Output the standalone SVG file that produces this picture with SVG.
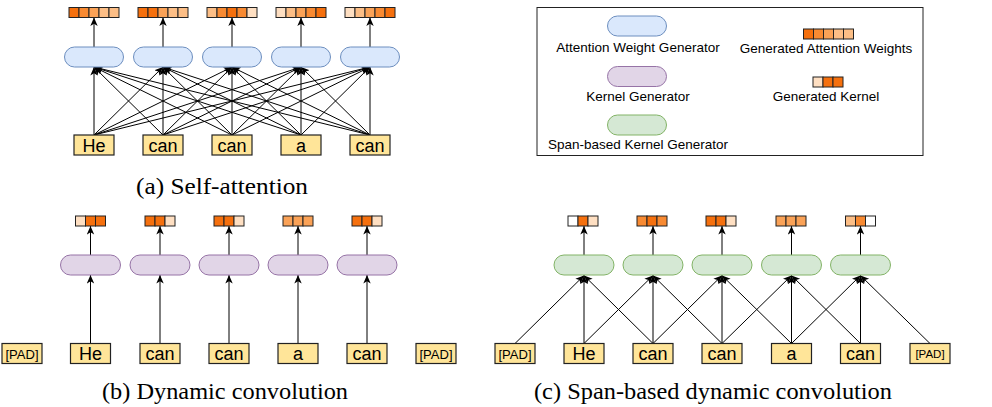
<svg xmlns="http://www.w3.org/2000/svg" width="992" height="407" viewBox="0 0 992 407">
  <defs>
    <marker id="arr" markerWidth="9" markerHeight="9" refX="8.5" refY="4" orient="auto" markerUnits="userSpaceOnUse">
      <path d="M0,0.3 L8.5,4 L0,7.7 L2.2,4 Z" fill="#000"/>
    </marker>
    <style>
      .tok rect { fill: #FFE599; stroke: #222; stroke-width: 1.2; }
      .tok text { font-family: "Liberation Sans", Arial, sans-serif; font-size: 18px; fill: #000; text-anchor: middle; }
      .tok.pad text { font-size: 13px; }
      .attn { fill: #DAE8FC; stroke: #6C8EBF; stroke-width: 1; }
      .kern { fill: #E1D5E7; stroke: #9673A6; stroke-width: 1; }
      .span { fill: #D5E8D4; stroke: #82B366; stroke-width: 1; }
      .cell { stroke: #222; stroke-width: 1; }
      .D { fill: #F5700E; }
      .M1 { fill: #F88A32; }
      .M2 { fill: #FAA257; }
      .L1 { fill: #FCBE86; }
      .L2 { fill: #FEDFC2; }
      .W { fill: #FFFFFF; }
      .conn line { stroke: #000; stroke-width: 1; marker-end: url(#arr); }
      .cap { font-family: "Liberation Serif", "Times New Roman", serif; font-size: 24px; fill: #000; text-anchor: middle; }
      .leg { font-family: "Liberation Sans", Arial, sans-serif; font-size: 13.5px; fill: #000; text-anchor: middle; }
    </style>
  </defs>
  <rect width="992" height="407" fill="#fff"/>

  <!-- ===== (a) Self-attention ===== -->
  <g id="sa-connectors" class="conn">
    <!-- generators to weights -->
    <line x1="94" y1="47" x2="94" y2="17.5"/>
    <line x1="163" y1="47" x2="163" y2="17.5"/>
    <line x1="232" y1="47" x2="232" y2="17.5"/>
    <line x1="301" y1="47" x2="301" y2="17.5"/>
    <line x1="370" y1="47" x2="370" y2="17.5"/>
    <!-- every token feeds every generator -->
    <line x1="94" y1="135" x2="94" y2="67"/>
    <line x1="94" y1="135" x2="163" y2="67"/>
    <line x1="94" y1="135" x2="232" y2="67"/>
    <line x1="94" y1="135" x2="301" y2="67"/>
    <line x1="94" y1="135" x2="370" y2="67"/>
    <line x1="163" y1="135" x2="94" y2="67"/>
    <line x1="163" y1="135" x2="163" y2="67"/>
    <line x1="163" y1="135" x2="232" y2="67"/>
    <line x1="163" y1="135" x2="301" y2="67"/>
    <line x1="163" y1="135" x2="370" y2="67"/>
    <line x1="232" y1="135" x2="94" y2="67"/>
    <line x1="232" y1="135" x2="163" y2="67"/>
    <line x1="232" y1="135" x2="232" y2="67"/>
    <line x1="232" y1="135" x2="301" y2="67"/>
    <line x1="232" y1="135" x2="370" y2="67"/>
    <line x1="301" y1="135" x2="94" y2="67"/>
    <line x1="301" y1="135" x2="163" y2="67"/>
    <line x1="301" y1="135" x2="232" y2="67"/>
    <line x1="301" y1="135" x2="301" y2="67"/>
    <line x1="301" y1="135" x2="370" y2="67"/>
    <line x1="370" y1="135" x2="94" y2="67"/>
    <line x1="370" y1="135" x2="163" y2="67"/>
    <line x1="370" y1="135" x2="232" y2="67"/>
    <line x1="370" y1="135" x2="301" y2="67"/>
    <line x1="370" y1="135" x2="370" y2="67"/>
  </g>

  <g id="sa-weights-1"><rect class="cell D" x="69" y="7.5" width="10" height="10"/><rect class="cell M1" x="79" y="7.5" width="10" height="10"/><rect class="cell M2" x="89" y="7.5" width="10" height="10"/><rect class="cell L1" x="99" y="7.5" width="10" height="10"/><rect class="cell L1" x="109" y="7.5" width="10" height="10"/></g>
  <g id="sa-weights-2"><rect class="cell D" x="138" y="7.5" width="10" height="10"/><rect class="cell D" x="148" y="7.5" width="10" height="10"/><rect class="cell M2" x="158" y="7.5" width="10" height="10"/><rect class="cell L1" x="168" y="7.5" width="10" height="10"/><rect class="cell L1" x="178" y="7.5" width="10" height="10"/></g>
  <g id="sa-weights-3"><rect class="cell L1" x="207" y="7.5" width="10" height="10"/><rect class="cell M1" x="217" y="7.5" width="10" height="10"/><rect class="cell D" x="227" y="7.5" width="10" height="10"/><rect class="cell M1" x="237" y="7.5" width="10" height="10"/><rect class="cell L2" x="247" y="7.5" width="10" height="10"/></g>
  <g id="sa-weights-4"><rect class="cell L2" x="276" y="7.5" width="10" height="10"/><rect class="cell L1" x="286" y="7.5" width="10" height="10"/><rect class="cell M2" x="296" y="7.5" width="10" height="10"/><rect class="cell M1" x="306" y="7.5" width="10" height="10"/><rect class="cell D" x="316" y="7.5" width="10" height="10"/></g>
  <g id="sa-weights-5"><rect class="cell L2" x="345" y="7.5" width="10" height="10"/><rect class="cell L1" x="355" y="7.5" width="10" height="10"/><rect class="cell M2" x="365" y="7.5" width="10" height="10"/><rect class="cell M1" x="375" y="7.5" width="10" height="10"/><rect class="cell D" x="385" y="7.5" width="10" height="10"/></g>

  <g id="sa-gen-1"><rect class="attn" x="64.5" y="47" width="59" height="20" rx="10"/></g>
  <g id="sa-gen-2"><rect class="attn" x="133.5" y="47" width="59" height="20" rx="10"/></g>
  <g id="sa-gen-3"><rect class="attn" x="202.5" y="47" width="59" height="20" rx="10"/></g>
  <g id="sa-gen-4"><rect class="attn" x="271.5" y="47" width="59" height="20" rx="10"/></g>
  <g id="sa-gen-5"><rect class="attn" x="340.5" y="47" width="59" height="20" rx="10"/></g>

  <g id="sa-tok-1" class="tok"><rect x="74" y="135" width="40" height="20"/><text x="94" y="151.5">He</text></g>
  <g id="sa-tok-2" class="tok"><rect x="143" y="135" width="40" height="20"/><text x="163" y="151.5">can</text></g>
  <g id="sa-tok-3" class="tok"><rect x="212" y="135" width="40" height="20"/><text x="232" y="151.5">can</text></g>
  <g id="sa-tok-4" class="tok"><rect x="281" y="135" width="40" height="20"/><text x="301" y="151.5">a</text></g>
  <g id="sa-tok-5" class="tok"><rect x="350" y="135" width="40" height="20"/><text x="370" y="151.5">can</text></g>

  <text class="cap" x="222" y="194" textLength="172" lengthAdjust="spacingAndGlyphs">(a) Self-attention</text>

  <!-- ===== Legend ===== -->
  <g id="legend">
    <rect x="537" y="7.5" width="386" height="148" fill="#fff" stroke="#222" stroke-width="1"/>
    <rect class="attn" x="607.5" y="16" width="59" height="20" rx="10"/>
    <text class="leg" x="638" y="52">Attention Weight Generator</text>
    <rect class="kern" x="607.5" y="66.5" width="59" height="20" rx="10"/>
    <text class="leg" x="638" y="101">Kernel Generator</text>
    <rect class="span" x="607.5" y="115" width="59" height="20" rx="10"/>
    <text class="leg" x="638" y="149">Span-based Kernel Generator</text>
    <rect class="cell D" x="803.5" y="29" width="10" height="10"/><rect class="cell M1" x="813.5" y="29" width="10" height="10"/><rect class="cell M2" x="823.5" y="29" width="10" height="10"/><rect class="cell L1" x="833.5" y="29" width="10" height="10"/><rect class="cell L1" x="843.5" y="29" width="10" height="10"/>
    <text class="leg" x="826" y="53">Generated Attention Weights</text>
    <rect class="cell L2" x="813" y="77" width="10" height="10"/><rect class="cell D" x="823" y="77" width="10" height="10"/><rect class="cell D" x="833" y="77" width="10" height="10"/>
    <text class="leg" x="826" y="101">Generated Kernel</text>
  </g>

  <!-- ===== (b) Dynamic convolution ===== -->
  <g id="dc-connectors" class="conn">
    <line x1="90.5" y1="255" x2="90.5" y2="226"/>
    <line x1="160" y1="255" x2="160" y2="226"/>
    <line x1="229" y1="255" x2="229" y2="226"/>
    <line x1="298" y1="255" x2="298" y2="226"/>
    <line x1="367" y1="255" x2="367" y2="226"/>
    <line x1="90.5" y1="343.5" x2="90.5" y2="275"/>
    <line x1="160" y1="343.5" x2="160" y2="275"/>
    <line x1="229" y1="343.5" x2="229" y2="275"/>
    <line x1="298" y1="343.5" x2="298" y2="275"/>
    <line x1="367" y1="343.5" x2="367" y2="275"/>
  </g>

  <g id="dc-kernel-1"><rect class="cell L2" x="75.5" y="216" width="10" height="10"/><rect class="cell D" x="85.5" y="216" width="10" height="10"/><rect class="cell D" x="95.5" y="216" width="10" height="10"/></g>
  <g id="dc-kernel-2"><rect class="cell D" x="145" y="216" width="10" height="10"/><rect class="cell D" x="155" y="216" width="10" height="10"/><rect class="cell L2" x="165" y="216" width="10" height="10"/></g>
  <g id="dc-kernel-3"><rect class="cell D" x="214" y="216" width="10" height="10"/><rect class="cell D" x="224" y="216" width="10" height="10"/><rect class="cell L2" x="234" y="216" width="10" height="10"/></g>
  <g id="dc-kernel-4"><rect class="cell M2" x="283" y="216" width="10" height="10"/><rect class="cell M2" x="293" y="216" width="10" height="10"/><rect class="cell M2" x="303" y="216" width="10" height="10"/></g>
  <g id="dc-kernel-5"><rect class="cell D" x="352" y="216" width="10" height="10"/><rect class="cell D" x="362" y="216" width="10" height="10"/><rect class="cell L2" x="372" y="216" width="10" height="10"/></g>

  <g id="dc-gen-1"><rect class="kern" x="60.5" y="255" width="60" height="20" rx="10"/></g>
  <g id="dc-gen-2"><rect class="kern" x="130" y="255" width="60" height="20" rx="10"/></g>
  <g id="dc-gen-3"><rect class="kern" x="199" y="255" width="60" height="20" rx="10"/></g>
  <g id="dc-gen-4"><rect class="kern" x="268" y="255" width="60" height="20" rx="10"/></g>
  <g id="dc-gen-5"><rect class="kern" x="337" y="255" width="60" height="20" rx="10"/></g>

  <g id="dc-tok-0" class="tok pad"><rect x="2" y="343.5" width="40" height="20"/><text x="22" y="358.5">[PAD]</text></g>
  <g id="dc-tok-1" class="tok"><rect x="70.5" y="343.5" width="40" height="20"/><text x="90.5" y="360">He</text></g>
  <g id="dc-tok-2" class="tok"><rect x="140" y="343.5" width="40" height="20"/><text x="160" y="360">can</text></g>
  <g id="dc-tok-3" class="tok"><rect x="209" y="343.5" width="40" height="20"/><text x="229" y="360">can</text></g>
  <g id="dc-tok-4" class="tok"><rect x="278" y="343.5" width="40" height="20"/><text x="298" y="360">a</text></g>
  <g id="dc-tok-5" class="tok"><rect x="347" y="343.5" width="40" height="20"/><text x="367" y="360">can</text></g>
  <g id="dc-tok-6" class="tok pad"><rect x="416" y="343.5" width="40" height="20"/><text x="436" y="358.5">[PAD]</text></g>

  <text class="cap" x="225" y="399" textLength="246" lengthAdjust="spacingAndGlyphs">(b) Dynamic convolution</text>

  <!-- ===== (c) Span-based dynamic convolution ===== -->
  <g id="sc-connectors" class="conn">
    <line x1="584" y1="255" x2="584" y2="226"/>
    <line x1="653" y1="255" x2="653" y2="226"/>
    <line x1="722" y1="255" x2="722" y2="226"/>
    <line x1="791.5" y1="255" x2="791.5" y2="226"/>
    <line x1="860.5" y1="255" x2="860.5" y2="226"/>
    <!-- each generator reads a three-token span -->
    <line x1="515" y1="343.5" x2="584" y2="275.5"/>
    <line x1="584" y1="343.5" x2="584" y2="275.5"/>
    <line x1="653" y1="343.5" x2="584" y2="275.5"/>
    <line x1="584" y1="343.5" x2="653" y2="275.5"/>
    <line x1="653" y1="343.5" x2="653" y2="275.5"/>
    <line x1="722" y1="343.5" x2="653" y2="275.5"/>
    <line x1="653" y1="343.5" x2="722" y2="275.5"/>
    <line x1="722" y1="343.5" x2="722" y2="275.5"/>
    <line x1="791.5" y1="343.5" x2="722" y2="275.5"/>
    <line x1="722" y1="343.5" x2="791.5" y2="275.5"/>
    <line x1="791.5" y1="343.5" x2="791.5" y2="275.5"/>
    <line x1="860.5" y1="343.5" x2="791.5" y2="275.5"/>
    <line x1="791.5" y1="343.5" x2="860.5" y2="275.5"/>
    <line x1="860.5" y1="343.5" x2="860.5" y2="275.5"/>
    <line x1="930" y1="343.5" x2="860.5" y2="275.5"/>
  </g>

  <g id="sc-kernel-1"><rect class="cell W" x="568" y="216" width="10" height="10"/><rect class="cell D" x="578" y="216" width="10" height="10"/><rect class="cell L2" x="588" y="216" width="10" height="10"/></g>
  <g id="sc-kernel-2"><rect class="cell M1" x="637" y="216" width="10" height="10"/><rect class="cell D" x="647" y="216" width="10" height="10"/><rect class="cell M1" x="657" y="216" width="10" height="10"/></g>
  <g id="sc-kernel-3"><rect class="cell D" x="706" y="216" width="10" height="10"/><rect class="cell D" x="716" y="216" width="10" height="10"/><rect class="cell L2" x="726" y="216" width="10" height="10"/></g>
  <g id="sc-kernel-4"><rect class="cell M2" x="776" y="216" width="10" height="10"/><rect class="cell M2" x="786" y="216" width="10" height="10"/><rect class="cell M2" x="796" y="216" width="10" height="10"/></g>
  <g id="sc-kernel-5"><rect class="cell L1" x="845.5" y="216" width="10" height="10"/><rect class="cell M1" x="855.5" y="216" width="10" height="10"/><rect class="cell W" x="865.5" y="216" width="10" height="10"/></g>

  <g id="sc-gen-1"><rect class="span" x="554" y="255" width="60" height="20" rx="10"/></g>
  <g id="sc-gen-2"><rect class="span" x="623" y="255" width="60" height="20" rx="10"/></g>
  <g id="sc-gen-3"><rect class="span" x="692" y="255" width="60" height="20" rx="10"/></g>
  <g id="sc-gen-4"><rect class="span" x="761.5" y="255" width="60" height="20" rx="10"/></g>
  <g id="sc-gen-5"><rect class="span" x="830.5" y="255" width="60" height="20" rx="10"/></g>

  <g id="sc-tok-0" class="tok pad"><rect x="495" y="343.5" width="40" height="20"/><text x="515" y="358.5">[PAD]</text></g>
  <g id="sc-tok-1" class="tok"><rect x="564" y="343.5" width="40" height="20"/><text x="584" y="360">He</text></g>
  <g id="sc-tok-2" class="tok"><rect x="633" y="343.5" width="40" height="20"/><text x="653" y="360">can</text></g>
  <g id="sc-tok-3" class="tok"><rect x="702" y="343.5" width="40" height="20"/><text x="722" y="360">can</text></g>
  <g id="sc-tok-4" class="tok"><rect x="771.5" y="343.5" width="40" height="20"/><text x="791.5" y="360">a</text></g>
  <g id="sc-tok-5" class="tok"><rect x="840.5" y="343.5" width="40" height="20"/><text x="860.5" y="360">can</text></g>
  <g id="sc-tok-6" class="tok pad"><rect x="910" y="343.5" width="40" height="20"/><text x="930" y="358" style="font-size:11.5px">[PAD]</text></g>

  <text class="cap" x="713" y="399" textLength="358" lengthAdjust="spacingAndGlyphs">(c) Span-based dynamic convolution</text>
</svg>
